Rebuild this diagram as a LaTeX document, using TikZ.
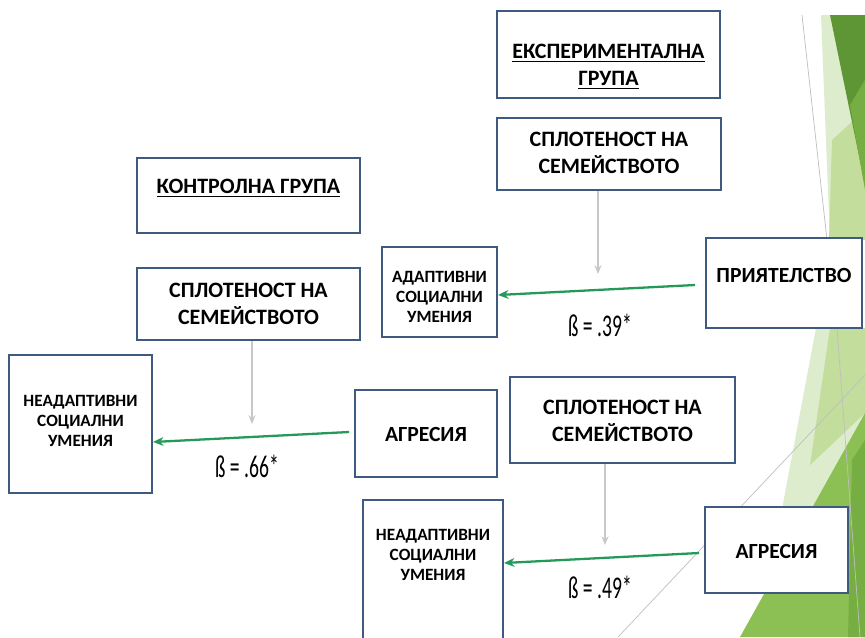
\documentclass[tikz,border=0pt]{standalone}
\usepackage{fontspec}
\setmainfont{Carlito}
\newfontfamily\betafont[FakeStretch=0.62]{Carlito}
\usetikzlibrary{arrows.meta,calc}
\definecolor{boxblue}{HTML}{3E5A80}
\definecolor{linkgreen}{HTML}{24995A}
\definecolor{modgray}{HTML}{C8C8C8}
\definecolor{leafpale}{HTML}{DDECCD}
\definecolor{leaflight}{HTML}{C3DD9D}
\definecolor{leafmid}{HTML}{8CC055}
\definecolor{leafdeep}{HTML}{77AE44}
\definecolor{leafdark}{HTML}{5E9636}

\begin{document}
\begin{tikzpicture}[x=0.02cm,y=-0.02cm,
    box/.style={draw=boxblue, line width=1.1pt, fill=white, inner sep=0pt},
    bigtxt/.style={font=\bfseries\fontsize{12.5}{15.5}\selectfont, align=center, inner sep=0pt},
    midtxt/.style={font=\bfseries\fontsize{12.3}{14}\selectfont, align=center, inner sep=0pt},
    smalltxt/.style={font=\bfseries\fontsize{9.8}{11.4}\selectfont, align=center, inner sep=0pt},
    betatxt/.style={font=\betafont\fontsize{18}{20}\selectfont, inner sep=0pt},
    path/.style={draw=linkgreen, line width=1.3pt, -{Stealth[length=6pt,width=5pt]}},
    moder/.style={draw=modgray, line width=0.8pt, -{Stealth[length=5pt,width=4pt]}}]
  \fill[white] (0,0) rectangle (865,637);
  \clip (0,0) rectangle (865,637);

  % slide decoration
  \fill[leafpale] (821,15) -- (865,15) -- (865,240) -- (830,240) -- cycle;
  \fill[leaflight] (832,140) -- (865,110) -- (865,240) -- (829,240) -- cycle;
  \fill[leafdark] (830,15) -- (865,15) -- (865,185) -- cycle;
  \fill[leafdeep] (850,105) -- (865,80) -- (865,190) -- cycle;
  \fill[leafpale] (816,328) -- (865,328) -- (865,637) -- (758,637) -- cycle;
  \fill[leaflight] (830,328) -- (865,328) -- (865,413) -- (810,465) -- cycle;
  \fill[leafmid] (865,413) -- (865,637) -- (740,637) -- cycle;
  \fill[leafdeep] (852,460) -- (865,440) -- (865,637) -- (848,637) -- cycle;
  \draw[gray!50, line width=0.4pt] (802,15) -- (827,240);
  \draw[gray!50, line width=0.4pt] (618,637) -- (865,375);
  \draw[gray!50, line width=0.4pt] (837,328) -- (860,637);

  % experimental group, top
  \node[box, minimum width=4.46cm, minimum height=1.74cm] (expG) at (608.5,54.5) {};
  \node[bigtxt] (expGt) at (608.5,67) {\underline{ЕКСПЕРИМЕНТАЛНА}\\\underline{ГРУПА}};
  \node[box, minimum width=4.48cm, minimum height=1.44cm] (expS1) at (609,154) {};
  \node[bigtxt] (expS1t) at (609,153) {СПЛОТЕНОСТ НА\\СЕМЕЙСТВОТО};
  \node[box, minimum width=2.3cm, minimum height=1.8cm] (adapt) at (439.5,292) {};
  \node[smalltxt] (adaptt) at (439.5,297) {АДАПТИВНИ\\СОЦИАЛНИ\\УМЕНИЯ};
  \node[box, minimum width=3.12cm, minimum height=1.8cm] (prij) at (784,283) {};
  \node[midtxt] (prijt) at (784,275) {ПРИЯТЕЛСТВО};

  % control group
  \node[box, minimum width=4.46cm, minimum height=1.5cm] (ctrlG) at (248.5,195.5) {};
  \node[bigtxt] (ctrlGt) at (248.5,188) {\underline{КОНТРОЛНА ГРУПА}};
  \node[box, minimum width=4.46cm, minimum height=1.44cm] (ctrlS) at (248.5,304) {};
  \node[bigtxt] (ctrlSt) at (248.5,304) {СПЛОТЕНОСТ НА\\СЕМЕЙСТВОТО};
  \node[box, minimum width=2.86cm, minimum height=2.76cm] (ctrlN) at (80.5,424) {};
  \node[smalltxt] (ctrlNt) at (80.5,421) {НЕАДАПТИВНИ\\СОЦИАЛНИ\\УМЕНИЯ};
  \node[box, minimum width=2.84cm, minimum height=1.74cm] (ctrlA) at (426,433.5) {};
  \node[midtxt] (ctrlAt) at (426,434) {АГРЕСИЯ};

  % experimental group, bottom
  \node[box, minimum width=4.5cm, minimum height=1.72cm] (expS2) at (622.5,420) {};
  \node[bigtxt] (expS2t) at (622.5,421) {СПЛОТЕНОСТ НА\\СЕМЕЙСТВОТО};
  \node[box, minimum width=2.8cm, minimum height=3.2cm] (expN) at (433,580) {};
  \node[smalltxt] (expNt) at (433,555) {НЕАДАПТИВНИ\\СОЦИАЛНИ\\УМЕНИЯ};
  \node[box, minimum width=2.86cm, minimum height=1.72cm] (expA) at (776.5,550) {};
  \node[midtxt] (expAt) at (776.5,551) {АГРЕСИЯ};

  % paths
  \draw[path] ($(prij.west)+(-10,2)$) -- ($(adapt.east)+(0,3)$);
  \draw[path] ($(ctrlA.west)+(-5,-1.5)$) -- ($(ctrlN.east)+(0,18)$);
  \draw[path] ($(expA.west)+(-5,3)$) -- ($(expN.east)+(0,-17)$);

  % moderation
  \coordinate (m1) at (598,274);
  \coordinate (m2) at (252,424);
  \coordinate (m3) at (605,545);
  \draw[moder] (expS1.south -| m1) -- (m1);
  \draw[moder] (ctrlS.south -| m2) -- (m2);
  \draw[moder] (expS2.south -| m3) -- (m3);

  \node[betatxt] (b1) at (600,325) {ß = .39*};
  \node[betatxt] (b2) at (247,466) {ß = .66*};
  \node[betatxt] (b3) at (600,587) {ß = .49*};
\end{tikzpicture}
\end{document}
